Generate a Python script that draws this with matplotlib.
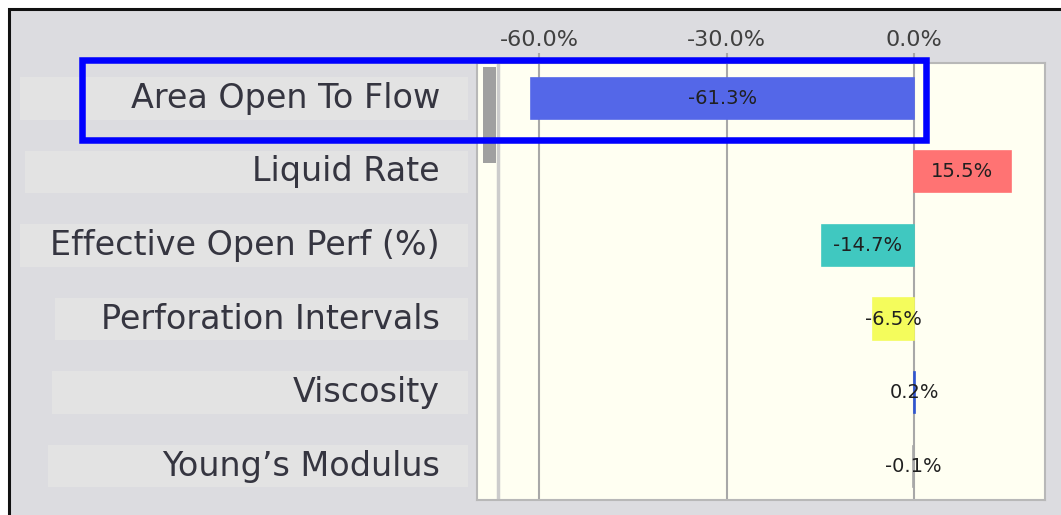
import matplotlib.pyplot as plt
from matplotlib.patches import Rectangle
from matplotlib.transforms import blended_transform_factory

# data
categories = ["Area Open To Flow", "Liquid Rate", "Effective Open Perf (%)",
              "Perforation Intervals", "Viscosity", "Young\u2019s Modulus"]
values = [-61.3, 15.5, -14.7, -6.5, 0.2, -0.1]
bar_colors = ["#5467e8", "#ff7373", "#40c8c0", "#f4fc5c", "#2f55d0", "#a8a8a8"]
tick_values = [-60, -30, 0]

# layout (pixels of the 1061x515 canvas)
W, H = 1061, 515
box_left = [20, 25, 20, 55, 52, 48]

fig = plt.figure(figsize=(W / 100, H / 100), dpi=100, facecolor="white")

# outer panel with black left/top border
fig.add_artist(Rectangle((8.5 / W, -0.1), 1.2, (H - 9.5) / H + 0.1,
                         transform=fig.transFigure, facecolor="#dcdce0",
                         edgecolor="#111111", lw=2.2, zorder=-10))

ax = fig.add_axes([477 / W, 15 / H, 568 / W, 437 / H])
ax.set_facecolor("#fffff2")

rows = range(len(categories))
ax.barh(rows, values, height=0.56, color=bar_colors, edgecolor=bar_colors,
        linewidth=1.2, zorder=3)

for i, v in enumerate(values):
    ax.text(v / 2, i, f"{v:.1f}%", ha="center", va="center", fontsize=14,
            color="#202020", zorder=4)

ax.set_xlim(-70, 21)
ax.set_ylim(5.46, -0.48)
ax.set_xticks(tick_values)
ax.set_xticklabels([f"{t:.1f}%" for t in tick_values])
ax.set_yticks([])
ax.tick_params(axis="x", top=True, bottom=False, labeltop=True,
               labelbottom=False, length=7, width=1.5, color="#a8a8a8",
               labelsize=16, labelcolor="#404040", pad=2)
ax.grid(axis="x", color="#a8a8a8", lw=1.5)
ax.set_axisbelow(True)
ax.axvline(-66.6, color="#cccccc", lw=2.5, zorder=1)
for s in ax.spines.values():
    s.set_color("#b8b8b8")
    s.set_linewidth(1.5)

# scrollbar stub
ax.add_patch(Rectangle((0.0106, 0.771), 0.023, 0.22, transform=ax.transAxes,
                       facecolor="#a0a0a0", edgecolor="none", zorder=5))

# category labels with light boxes
trans = blended_transform_factory(fig.transFigure, ax.transData)
for i, name in enumerate(categories):
    fig.add_artist(Rectangle((box_left[i] / W, i - 0.29), (468 - box_left[i]) / W, 0.58,
                             transform=trans, facecolor="#e3e3e3",
                             edgecolor="none", zorder=-5))
    ax.text(440 / W, i, name, transform=trans, ha="right", va="center",
            fontsize=24, color="#353540", clip_on=False)

# blue highlight around first row
fig.add_artist(Rectangle((82 / W, 1 - 140 / H), (926 - 82) / W, 80 / H,
                         transform=fig.transFigure, fill=False,
                         edgecolor="#0000ff", lw=4.7, zorder=10))

plt.savefig("out.png", dpi=100, facecolor=fig.get_facecolor())
